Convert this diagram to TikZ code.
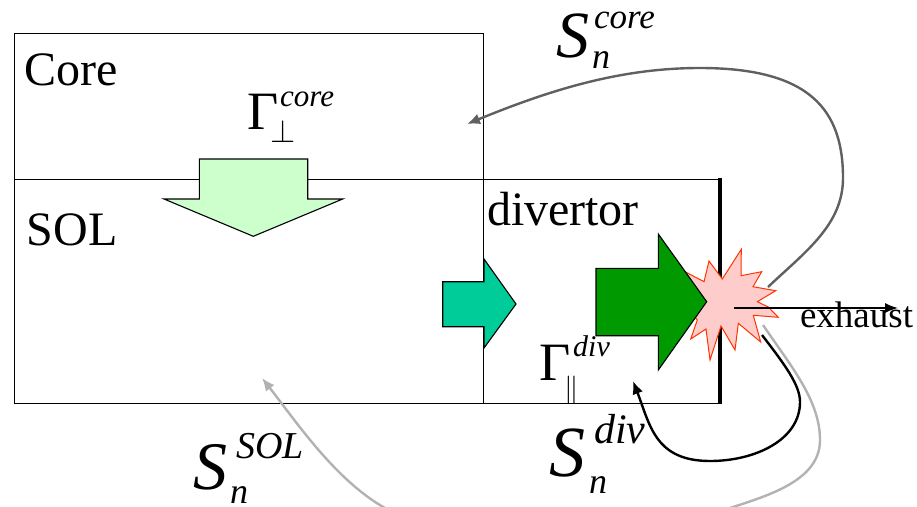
\documentclass[tikz,border=0pt]{standalone}
\usepackage{fontspec}
\usepackage{graphicx}
\setmainfont{Liberation Serif}
\usetikzlibrary{arrows.meta}
\newcommand{\fsz}[1]{\fontsize{#1}{#1}\selectfont}
% base text, its size, sup, sup size, sup raise, sub, sub size, sub raise, sub kern
\newcommand{\supsub}[9]{\fsz{#2}#1\rlap{\raisebox{#5pt}{\fsz{#4}\itshape #3}}\kern#9pt\raisebox{#8pt}{\fsz{#7}#6}}
\definecolor{paleg}{HTML}{CCFFCC}
\definecolor{teal1}{HTML}{00CC99}
\definecolor{green1}{HTML}{009900}
\definecolor{starfill}{HTML}{FFCCCC}
\definecolor{starline}{HTML}{FF3300}
\definecolor{corecol}{HTML}{606060}
\definecolor{solcol}{HTML}{B2B2B2}
\tikzset{
  every node/.style={inner sep=0pt,outer sep=0pt,anchor=base west},
  box/.style={draw=black,line width=0.9pt},
  blockarrow/.style={draw=black,line width=1.1pt,line join=miter},
  loopline/.style={line width=2.4pt,-{Latex[length=13pt,width=11pt]}},
  plainloop/.style={line width=2.4pt},
  lab/.style={font=\fsz{48}},
}
\begin{document}
\begin{tikzpicture}[x=1pt,y=-1pt]
\useasboundingbox (0,0) rectangle (917,506);
\clip (0,0) rectangle (917,506);
% frames
\node[box,anchor=north west,minimum width=469pt,minimum height=146pt] (core) at (14,33) {};
\node[box,anchor=north west,minimum width=469pt,minimum height=224pt] (sol) at (14,179) {};
\coordinate (divT) at (720,179);
\coordinate (divB) at (720,403);
\draw[box] (sol.north east) -- (divT);
\draw[box] (sol.south east) -- (divB);
\draw[black,line width=4pt] (720,178) -- (720,404);
% star
\draw[starline,fill=starfill,line width=1pt,line join=miter]
 (741.3,249.3) -- (741,275.7) -- (761.7,271.7) -- (753,286.7) -- (775.7,290.7)
 -- (757.3,301.7) -- (768.3,307) -- (778.3,317.3) -- (753.3,315.3) -- (760.7,342)
 -- (738.3,323.3) -- (735,350) -- (721,326) -- (710,360) -- (706,329) -- (690.7,339)
 -- (697.3,320) -- (680,298) -- (685,271.7) -- (704,281.7) -- (709,261) -- (722.3,279) -- cycle;
% block arrows
\draw[blockarrow,fill=paleg] (199.3,159) -- (307.7,159) -- (307.7,199) -- (342.7,199) -- (253.3,236.3) -- (164,199) -- (199.3,199) -- cycle;
\draw[blockarrow,fill=teal1] (442.7,281.7) -- (484,281.7) -- (484,259) -- (516,304) -- (484,348) -- (484,326.7) -- (442.7,326.7) -- cycle;
\draw[blockarrow,fill=green1] (596,268.3) -- (658.3,268.3) -- (658.3,234) -- (706.7,301.7) -- (658.3,370) -- (658.3,335.7) -- (596,335.7) -- cycle;
% connectors
\coordinate (blast) at (734,308);
\coordinate (exh) at (898,308);
\coordinate (coreIn) at (467,124);
\coordinate (coreOut) at (768,287);
\coordinate (divIn) at (633,381);
\coordinate (divOut) at (762,335);
\coordinate (solIn) at (262,378);
\coordinate (solOut) at (763,325);
\draw[line width=1.6pt,black,-{Latex[length=13pt,width=10pt]}] (blast) -- (exh);
\draw[loopline,corecol] (coreOut) .. controls (805,252) and (843,225) .. (843,178)
  .. controls (843,110) and (810,68) .. (700,68)
  .. controls (620,68) and (550,90) .. (coreIn);
\draw[loopline,black] (divOut) .. controls (785,365) and (800,385) .. (800,402)
  .. controls (800,440) and (755,461) .. (710,461)
  .. controls (655,461) and (650,425) .. (divIn);
\draw[plainloop,solcol] (solOut) .. controls (790,365) and (820,400) .. (820,440)
  .. controls (820,480) and (770,495) .. (730,508);
\draw[loopline,solcol] (385,508) .. controls (335,480) and (295,420) .. (solIn);
% labels
\node[lab] (tCore) at (24,85) {Core};
\node[lab] (tSol) at (27,245) {SOL};
\node[lab] (tDiv) at (487,225) {divertor};
\node (tExh) at (800,327.5) {\fsz{37}exhaust};
\node (gCore) at (247,129) {\supsub{Γ}{54}{\kern2pt core}{31}{23}{\scalebox{1.3}{$\perp$}}{40}{-13}{-8}};
\node (gDiv) at (539,380.7) {\supsub{Γ}{54}{\kern3pt div}{30}{24}{\scalebox{1.15}{$\parallel$}}{30}{-17}{-6}};
\node (sCore) at (556,57) {\supsub{\itshape S}{66}{\kern5pt core}{35}{29}{\itshape n}{36}{-11}{3}};
\node (sDiv) at (549,476) {\supsub{\itshape S}{72}{\kern9pt div}{42}{33}{\itshape n}{36}{-17}{4}};
\node (sSol) at (193,489) {\supsub{\itshape S}{68}{\kern9pt SOL}{38}{31}{\itshape n}{36}{-14}{3}};
\end{tikzpicture}
\end{document}
